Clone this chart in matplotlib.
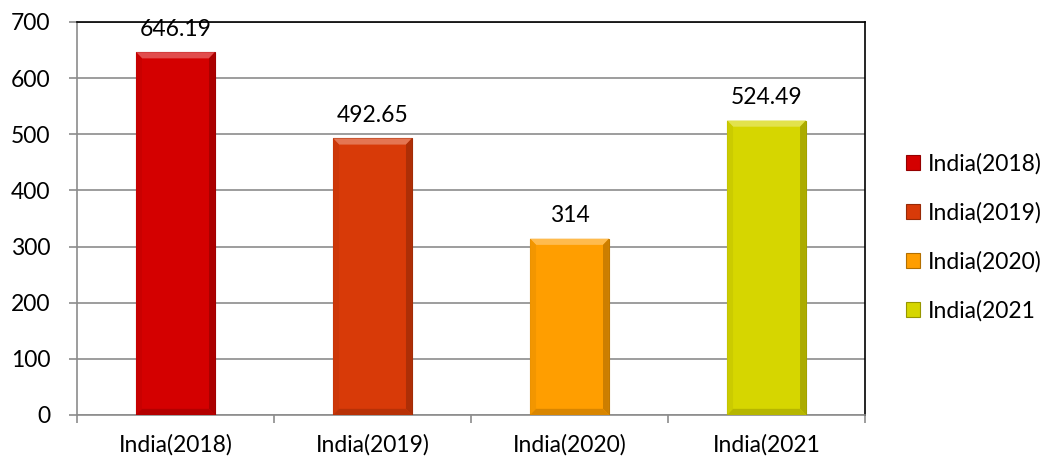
import matplotlib
matplotlib.use('Agg')
import matplotlib.pyplot as plt
import matplotlib.colors as mcolors
from matplotlib.patches import Polygon, Patch

plt.rcParams['font.family'] = ['Lato', 'DejaVu Sans']

# data
categories = ['India(2018)', 'India(2019)', 'India(2020)', 'India(2021']
values = [646.19, 492.65, 314, 524.49]
value_labels = ['646.19', '492.65', '314', '524.49']
colors = ['#D40000', '#D83A08', '#FF9E00', '#D6D600']

FS = 16.5

fig = plt.figure(figsize=(10.53, 4.61), dpi=100)
ax = fig.add_axes([0.0731, 0.0998, 0.7484, 0.8525])

width = 0.4
bx = 0.03    # bevel size, x units
by = 11.0    # bevel size, y units


def shade(c, f):
    r, g, b = mcolors.to_rgb(c)
    if f > 0:
        return (r + (1 - r) * f, g + (1 - g) * f, b + (1 - b) * f)
    return (r * (1 + f), g * (1 + f), b * (1 + f))


for i, (v, c) in enumerate(zip(values, colors)):
    ax.bar(i, v, width=width, color=c, edgecolor=shade(c, -0.25), linewidth=0.8, zorder=3)
    x0, x1 = i - width / 2, i + width / 2
    # bevel: top light, sides slightly darker, bottom dark
    ax.add_patch(Polygon([(x0, v), (x1, v), (x1 - bx, v - by), (x0 + bx, v - by)],
                         closed=True, color=shade(c, 0.3), lw=0, zorder=4))
    ax.add_patch(Polygon([(x0, 0), (x0, v), (x0 + bx, v - by), (x0 + bx, by)],
                         closed=True, color=shade(c, -0.05), lw=0, zorder=4))
    ax.add_patch(Polygon([(x1, 0), (x1, v), (x1 - bx, v - by), (x1 - bx, by)],
                         closed=True, color=shade(c, -0.2), lw=0, zorder=4))
    ax.add_patch(Polygon([(x0, 0), (x1, 0), (x1 - bx, by), (x0 + bx, by)],
                         closed=True, color=shade(c, -0.15), lw=0, zorder=4))
    ax.annotate(value_labels[i], (i, v), xytext=(0, 9), textcoords='offset points',
                ha='center', va='bottom', fontsize=FS, zorder=5)

ax.set_xlim(-0.5, len(values) - 0.5)
ax.set_ylim(0, 700)
ax.set_yticks(range(0, 701, 100))
ax.yaxis.grid(True, color='#8c8c8c', linewidth=1.2, zorder=0)
ax.set_axisbelow(True)

ax.set_xticks(range(len(values)))
ax.set_xticklabels(categories, fontsize=FS)
ax.set_xticks([i - 0.5 for i in range(len(values) + 1)], minor=True)
ax.tick_params(axis='x', which='major', length=0, pad=14)
ax.tick_params(axis='x', which='minor', length=6, color='#8c8c8c', width=1.2)
ax.tick_params(axis='y', length=6, color='#8c8c8c', width=1.2, labelsize=FS, pad=13)

for s in ['left', 'bottom']:
    ax.spines[s].set_color('#8c8c8c')
    ax.spines[s].set_linewidth(1.2)
for s in ['top', 'right']:
    ax.spines[s].set_color('black')
    ax.spines[s].set_linewidth(1.2)

handles = [Patch(facecolor=c, edgecolor=shade(c, -0.3), linewidth=0.8) for c in colors]
fig.legend(handles, categories, loc='center left', bbox_to_anchor=(0.841, 0.485),
           frameon=False, fontsize=FS, handlelength=0.6, handleheight=0.6,
           handletextpad=0.35, labelspacing=1.2)

fig.savefig('out.png', dpi=100)
